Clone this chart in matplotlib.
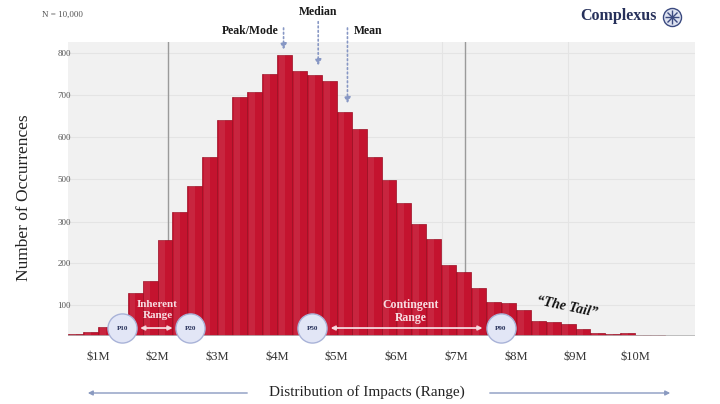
import matplotlib
matplotlib.use("Agg")
import matplotlib.pyplot as plt
from matplotlib.lines import Line2D
import numpy as np

plt.rcParams["font.family"] = ["Liberation Serif", "DejaVu Serif"]

# histogram: bins of $0.25M starting at $0.5M, heights in axis units
bin_left = np.arange(0.5, 11.0, 0.25)
counts = [4, 10, 21, 40, 102, 131, 229, 295, 357, 426,
          514, 569, 581, 624, 669, 631, 621, 607, 533, 493,
          426, 371, 317, 267, 231, 169, 152, 115, 82, 78,
          62, 36, 33, 28, 16, 8, 5, 8, 3, 2,
          1, 1]

x_ticks = [1, 2, 3, 4, 5, 6, 7, 8, 9, 10]
x_labels = [r"\$%dM" % v for v in x_ticks]
y_ticks = [74, 174, 271, 374, 474, 574, 674]
y_labels = ["100", "200", "300", "500", "600", "700", "800"]

pct_names = ["P10", "P20", "P50", "P90"]
pct_values = [1.41, 2.55, 4.59, 7.75]

peak_x, median_x, mean_x = 4.11, 4.69, 5.18
range_lines = [2.18, 7.15]

bar_red = "#c4132f"
navy = "#26305a"

fig = plt.figure(figsize=(7.2, 4.04), dpi=100)
ax = fig.add_axes([68 / 720, 68 / 404, 627 / 720, 294 / 404])
ax.set_facecolor("#f1f1f1")
ax.set_xlim(0.5, 11.0)
ax.set_ylim(0, 700)

for y in y_ticks:
    ax.axhline(y, color="#e4e4e4", lw=0.8, zorder=0)
for x in [6.77, 8.88]:
    ax.axvline(x, color="#e4e4e4", lw=0.8, zorder=0)
for x in range_lines:
    ax.axvline(x, color="#9a9a9a", lw=1.0, zorder=0.5)

ax.bar(bin_left, counts, width=0.25, align="edge", color=bar_red,
       edgecolor="#9a0d22", linewidth=0.5, zorder=2)
# lighter left half gives the bars a rounded look
ax.bar(bin_left + 0.03, counts, width=0.1, align="edge", color="white",
       alpha=0.08, linewidth=0, zorder=2.1)
ax.axhline(0, color="#b5b5b5", lw=1.2, zorder=3)

for s in ax.spines.values():
    s.set_visible(False)
ax.set_xticks(x_ticks)
ax.set_xticklabels(x_labels, fontsize=9, color="#333333")
ax.set_yticks(y_ticks)
ax.set_yticklabels(y_labels, fontsize=6.5, color="#555555")
ax.tick_params(axis="x", length=0, pad=11)
ax.tick_params(axis="y", length=0, pad=-2)

ax.set_ylabel("Number of Occurrences", fontsize=12.5, color="#222222")
ax.yaxis.set_label_coords(-0.058, 0.47)

# percentile circles
ax.scatter(pct_values, [19] * len(pct_values), s=440, facecolor="#e2e6f6",
           edgecolor="#a9b3d8", linewidth=1.0, zorder=6, clip_on=False)
for name, v in zip(pct_names, pct_values):
    ax.text(v, 19, name, fontsize=5, fontweight="bold", color=navy,
            ha="center", va="center", zorder=7)

pink = "#f7dde2"
ax.annotate("", xy=(pct_values[0] + 0.25, 19), xytext=(pct_values[1] - 0.25, 19),
            arrowprops=dict(arrowstyle="<|-|>", color=pink, lw=1.4,
                            mutation_scale=6, alpha=0.9), zorder=5)
ax.annotate("", xy=(pct_values[2] + 0.26, 19), xytext=(pct_values[3] - 0.26, 19),
            arrowprops=dict(arrowstyle="<|-|>", color=pink, lw=1.4,
                            mutation_scale=6, alpha=0.9), zorder=5)
ax.text(2.0, 62, "Inherent\nRange", fontsize=8, fontweight="bold", color=pink,
        ha="center", va="center", linespacing=1.25, zorder=5)
ax.text(6.24, 58, "Contingent\nRange", fontsize=8.5, fontweight="bold", color=pink,
        ha="center", va="center", linespacing=1.15, zorder=5)
ax.text(8.85, 68, "\u201cThe Tail\u201d", fontsize=10, fontweight="bold",
        style="italic", color="#111111", ha="center", va="center", rotation=-12)

# peak / median / mean markers
arrow_kw = dict(arrowstyle="-|>", color="#8797c4", lw=1.2, linestyle=":",
                mutation_scale=9)
bin_of = lambda x: counts[int((x - 0.5) // 0.25)]
ax.annotate("", xy=(peak_x, bin_of(peak_x) + 6), xytext=(peak_x, 740),
            arrowprops=arrow_kw, annotation_clip=False)
ax.annotate("", xy=(median_x, bin_of(median_x) + 16), xytext=(median_x, 755),
            arrowprops=arrow_kw, annotation_clip=False)
ax.annotate("", xy=(mean_x, bin_of(mean_x) + 14), xytext=(mean_x, 740),
            arrowprops=arrow_kw, annotation_clip=False)
ax.text(4.02, 726, "Peak/Mode", fontsize=8.5, fontweight="bold", ha="right",
        va="center", color="#1a1a1a", clip_on=False)
ax.text(median_x, 772, "Median", fontsize=8.5, fontweight="bold", ha="center",
        va="center", color="#1a1a1a", clip_on=False)
ax.text(5.28, 726, "Mean", fontsize=8.5, fontweight="bold", ha="left",
        va="center", color="#1a1a1a", clip_on=False)

fig.text(62 / 720, 1 - 15 / 404, "N = 10,000", fontsize=6.5, color="#555555",
         ha="center", va="center")

# logo
fig.text(657 / 720, 1 - 16 / 404, "Complexus", fontsize=11.5, fontweight="bold",
         color=navy, ha="right", va="center")
lx, ly = 672 / 720, 1 - 17 / 404
fig.add_artist(Line2D([lx], [ly], marker="o", markersize=13, markerfacecolor="#dde2f0",
                      markeredgecolor="#3b4a80", markeredgewidth=1.0))
fig.add_artist(Line2D([lx], [ly], marker="+", markersize=10, color="#3b4a80", mew=1))
fig.add_artist(Line2D([lx], [ly], marker="x", markersize=7, color="#3b4a80", mew=1))

fig.text(367 / 720, 1 - 392 / 404, "Distribution of Impacts (Range)", fontsize=11,
         color="#222222", ha="center", va="center")
axis_arrow = dict(arrowstyle="-|>", color="#8a9ac0", lw=1.0, mutation_scale=7)
fig.add_artist(matplotlib.patches.FancyArrowPatch((250 / 720, 11 / 404), (85 / 720, 11 / 404),
                                                  transform=fig.transFigure, **axis_arrow))
fig.add_artist(matplotlib.patches.FancyArrowPatch((487 / 720, 11 / 404), (673 / 720, 11 / 404),
                                                  transform=fig.transFigure, **axis_arrow))

fig.savefig("out.png", dpi=100)
